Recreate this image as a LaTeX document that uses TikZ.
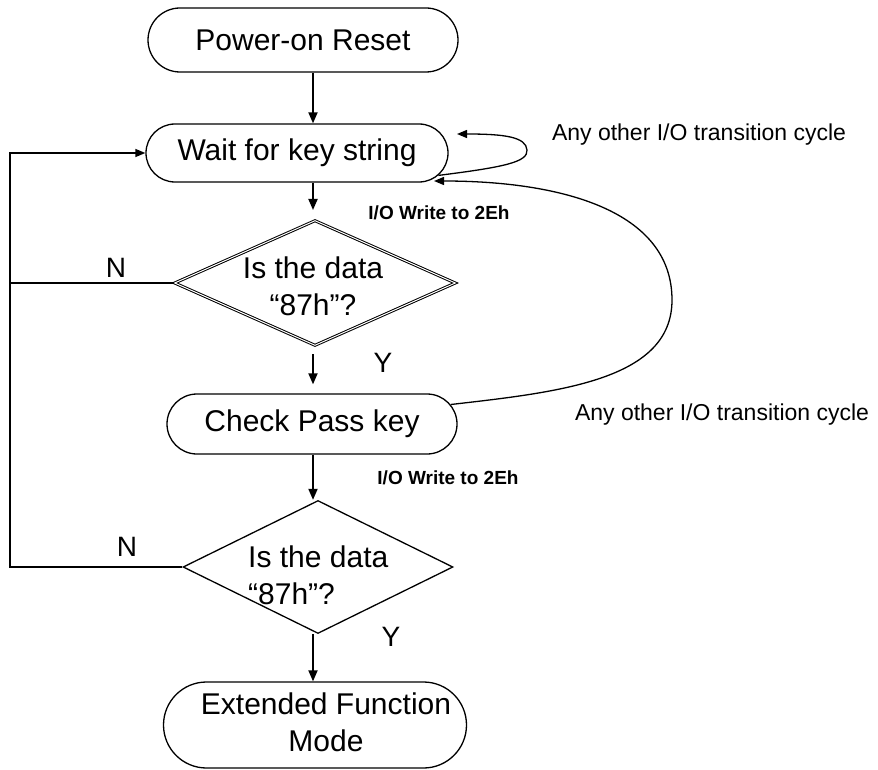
\documentclass[tikz,border=0pt]{standalone}
\usepackage{fontspec}
\setmainfont{Liberation Sans}
\usetikzlibrary{shapes.misc,shapes.geometric,arrows.meta,calc}
\begin{document}
\begin{tikzpicture}[x=1pt,y=-1pt,
 stadbox/.style={rounded rectangle, draw, line width=1.3pt, inner sep=0pt, font=\fontsize{30}{37}\selectfont},
 decbox/.style={diamond, draw, line width=1.3pt, inner sep=0pt},
 bigtxt/.style={font=\fontsize{30}{37}\selectfont, inner sep=0pt},
 lbl/.style={font=\fontsize{28}{34}\selectfont, inner sep=0pt},
 iolbl/.style={font=\fontsize{19}{22}\selectfont\bfseries, inner sep=0pt},
 anylbl/.style={font=\fontsize{23}{28}\selectfont, inner sep=0pt},
 arr/.style={line width=1.8pt, -{Triangle[length=11pt,width=9pt]}},
 thinarr/.style={line width=1.3pt, -{Triangle[length=10pt,width=8pt]}},
 wire/.style={line width=1.3pt}]
\useasboundingbox (0,0) rectangle (878,770);

% nodes
\node[stadbox, minimum width=310pt, minimum height=64pt] (por) at (303,40) {Power-on Reset};
\node[stadbox, minimum width=302pt, minimum height=58pt] (wait) at (297,153) {Wait for key string};
\node[decbox, double, line width=1pt, double distance=1pt, minimum width=281pt, minimum height=125pt] (d1) at (315,283) {};
\node[bigtxt, align=center] (d1t) at (313,286) {Is the data\\“87h”?};
\node[stadbox, minimum width=290pt, minimum height=60pt] (check) at (312,424) {Check Pass key};
\node[decbox, minimum width=270pt, minimum height=133pt] (d2) at (318,567) {};
\node[bigtxt, align=left, anchor=north west] (d2t) at (248,546) {Is the data\\“87h”?};
\node[stadbox, minimum width=303pt, minimum height=86pt] (efm) at (315,725) {};
\node[bigtxt, align=center] (efmt) at (326,722) {Extended Function\\Mode};

% labels
\node[lbl] (n1) at (116,268) {N};
\node[lbl] (n2) at (127,547) {N};
\node[lbl] (y1) at (383,363) {Y};
\node[lbl] (y2) at (391,637) {Y};
\node[iolbl] (io1) at (439,213) {I/O Write to 2Eh};
\node[iolbl] (io2) at (448,478) {I/O Write to 2Eh};
\node[anylbl] (any1) at (699,135) {Any other I/O transition cycle};
\node[anylbl] (any2) at (722,415) {Any other I/O transition cycle};

% helper coordinates
\coordinate (ax) at (313,0);
\coordinate (L) at (10,0);
\coordinate (l1end) at (457,134);
\coordinate (l2end) at (434,181);

% main flow
\draw[arr] (por.south -| ax) -- (wait.north -| ax);
\draw[arr, shorten >=10pt] (wait.south -| ax) -- (d1.north -| ax);
\draw[arr, shorten <=8pt, shorten >=9pt] (d1.south -| ax) -- (check.north -| ax);
\draw[arr] (check.south -| ax) -- (d2.north -| ax);
\draw[arr] (d2.south -| ax) -- (efm.north -| ax);

% N branches
\draw[wire] (d1.west) -- (d1.west -| L);
\draw[thinarr] (d2.west) -- (d2.west -| L) |- (wait.west);

% loops
\draw[thinarr] (wait.-9) .. controls (505,167) and (528,162) .. (527,150)
  .. controls (526,137) and (505,134) .. (l1end);
\draw[thinarr] (check.8) .. controls (560,392) and (672,380) .. (672,300)
  .. controls (672,210) and (560,181) .. (l2end);
\end{tikzpicture}
\end{document}
